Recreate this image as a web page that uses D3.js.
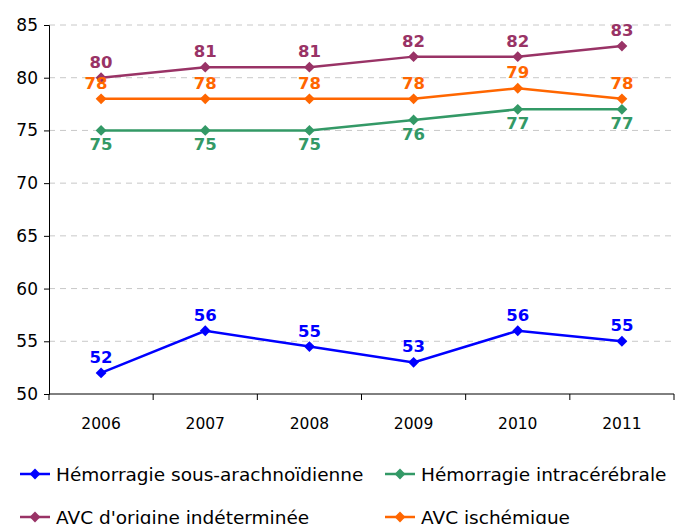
<!DOCTYPE html>
<html><head><meta charset="utf-8">
<script src="https://cdn.jsdelivr.net/npm/d3@7"></script>
<style>body{margin:0;background:#fff}svg{display:block}</style>
</head><body>
<script>
const years = ["2006","2007","2008","2009","2010","2011"];
const yTicks = [50,55,60,65,70,75,80,85];
const seriesNames = ["Hémorragie sous-arachnoïdienne","Hémorragie intracérébrale","AVC d'origine indéterminée","AVC ischémique"];
const hsaValues = [52,56,54.5,53,56,55];
const hsaLabels = ["52","56","55","53","56","55"];
const hicValues = [75,75,75,76,77,77];
const avcIndValues = [80,81,81,82,82,83];
const avcIschValues = [78,78,78,78,79,78];
const colors = ["#0000FF","#339966","#993366","#FF6600"];

const W=679,H=524;
const svg=d3.select("body").append("svg").attr("width",W).attr("height",H);
const x=d3.scaleBand().domain(years).range([49,674]);
const y=d3.scaleLinear().domain([50,85]).range([394,25]);
const font="'DejaVu Sans', sans-serif";

// grid
svg.append("g").selectAll("line").data(yTicks.filter(d=>d>50)).join("line")
 .attr("x1",49).attr("x2",674).attr("y1",d=>y(d)).attr("y2",d=>y(d))
 .attr("stroke","#c8c8c8").attr("stroke-dasharray","6,5").attr("stroke-width",1);

// axes
const ya=svg.append("g").attr("transform","translate(49,0)")
 .call(d3.axisLeft(y).tickValues(yTicks).tickSize(5).tickPadding(6));
ya.select(".domain").attr("stroke","#000");
ya.selectAll("text").attr("font-family",font).attr("font-size",17).attr("fill","#000");
const xa=svg.append("g").attr("transform","translate(0,394)")
 .call(d3.axisBottom(x).tickSize(0).tickPadding(24));
xa.select(".domain").attr("stroke","#000").attr("d","M49,0H674");
xa.selectAll("text").attr("font-family",font).attr("font-size",15.5).attr("fill","#000");
svg.append("g").selectAll("line").data(d3.range(years.length+1)).join("line")
 .attr("x1",i=>49+i*x.step()).attr("x2",i=>49+i*x.step()).attr("y1",394).attr("y2",400)
 .attr("stroke","#000");

const series=[
 {name:seriesNames[0],vals:hsaValues,labels:hsaLabels,color:colors[0],pos:"above"},
 {name:seriesNames[1],vals:hicValues,labels:hicValues.map(String),color:colors[1],pos:"below"},
 {name:seriesNames[2],vals:avcIndValues,labels:avcIndValues.map(String),color:colors[2],pos:"above"},
 {name:seriesNames[3],vals:avcIschValues,labels:avcIschValues.map(String),color:colors[3],pos:"above"}
];
const cx=d=>x(d)+x.bandwidth()/2;
const line=d3.line().x((d,i)=>cx(years[i])).y(d=>y(d));
const diamond=d3.symbol().type(d3.symbolDiamond2).size(75);

series.forEach((s,si)=>{
  const g=svg.append("g");
  g.append("path").attr("d",line(s.vals)).attr("fill","none").attr("stroke",s.color).attr("stroke-width",2.5);
  g.selectAll("path.m").data(s.vals).join("path").attr("class","m")
   .attr("transform",(d,i)=>`translate(${cx(years[i])},${y(d)})`).attr("d",diamond).attr("fill",s.color);
  g.selectAll("text").data(s.vals).join("text")
   .attr("x",(d,i)=>cx(years[i]) - (si===3&&i===0?5:0))
   .attr("y",d=>s.pos==="above"?y(d)-10:y(d)+20)
   .attr("text-anchor","middle").attr("font-family",font).attr("font-weight","bold")
   .attr("font-size",16.5).attr("fill",s.color).text((d,i)=>s.labels[i]);
});

// legend
const leg=[[0,20,474],[1,385,474],[2,20,517],[3,385,517]];
leg.forEach(([i,lx,ly])=>{
  const g=svg.append("g");
  g.append("line").attr("x1",lx).attr("x2",lx+30).attr("y1",ly).attr("y2",ly).attr("stroke",colors[i]).attr("stroke-width",2.5);
  g.append("path").attr("transform",`translate(${lx+15},${ly})`).attr("d",diamond).attr("fill",colors[i]);
  g.append("text").attr("x",lx+36).attr("y",ly+7).attr("font-family",font).attr("font-size",18.5)
   .attr("fill","#000").text(seriesNames[i]);
});
</script>
</body></html>
